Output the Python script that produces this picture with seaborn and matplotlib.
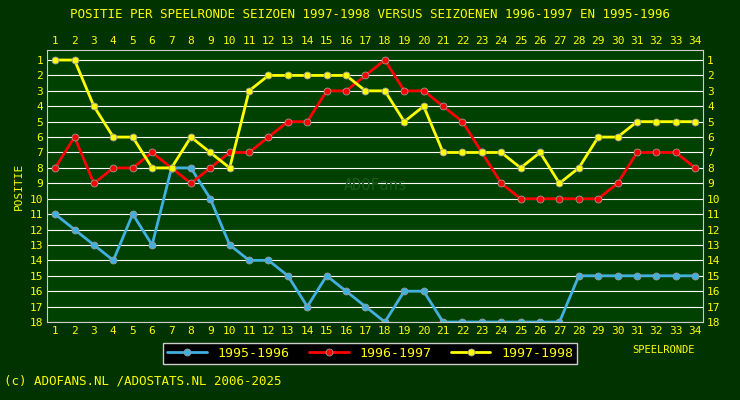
import numpy as np
import pandas as pd
import matplotlib
matplotlib.use("Agg")
import matplotlib.pyplot as plt
import seaborn as sns

rounds = list(range(1, 35))
pos_9596 = [11, 12, 13, 14, 11, 13, 8, 8, 10, 13, 14, 14, 15, 17, 15, 16, 17, 18, 16, 16,
            18, 18, 18, 18, 18, 18, 18, 15, 15, 15, 15, 15, 15, 15]
pos_9697 = [8, 6, 9, 8, 8, 7, 8, 9, 8, 7, 7, 6, 5, 5, 3, 3, 2, 1, 3, 3,
            4, 5, 7, 9, 10, 10, 10, 10, 10, 9, 7, 7, 7, 8]
pos_9798 = [1, 1, 4, 6, 6, 8, 8, 6, 7, 8, 3, 2, 2, 2, 2, 2, 3, 3, 5, 4,
            7, 7, 7, 7, 8, 7, 9, 8, 6, 6, 5, 5, 5, 5]

df = pd.DataFrame({"ronde": rounds * 3,
                   "positie": pos_9596 + pos_9697 + pos_9798,
                   "seizoen": ["1995-1996"] * 34 + ["1996-1997"] * 34 + ["1997-1998"] * 34})
colors = {"1995-1996": "#40b0e0", "1996-1997": "#ff0000", "1997-1998": "#ffff00"}

sns.set_style("dark")
plt.rcParams['font.family'] = ['DejaVu Sans Mono']
bg = "#003300"
fig = plt.figure(figsize=(7.4, 4.0), dpi=100, facecolor=bg)
ax = fig.add_axes([0.064, 0.195, 0.886, 0.68])
ax.set_facecolor("#004000")

for s in ["1995-1996", "1996-1997", "1997-1998"]:
    d = df[df.seizoen == s]
    sns.lineplot(data=d, x="ronde", y="positie", color=colors[s], lw=2, marker="o",
                 markersize=5, markeredgecolor="#999999", markeredgewidth=0.6,
                 ax=ax, label=s, legend=False)

ax.set_xlim(0.6, 34.4)
ax.set_ylim(18, 0.35)
ax.set_yticks(range(1, 19))
ax.set_xticks(rounds)
ax.grid(False)
for y in range(1, 19):
    ax.axhline(y, color="white", lw=0.8, zorder=0)
ax.tick_params(colors="#ffff00", labelsize=8, length=0, pad=3,
               top=True, right=True, labeltop=True, labelright=True)
for sp in ax.spines.values():
    sp.set_color("#cccccc")
ax.set_xlabel("")
ax.set_ylabel("POSITIE", color="#ffff00", fontsize=8)
ax.text(0.5, 0.5, "ADOFans", transform=ax.transAxes, ha="center", va="center",
        color="#1a5a1a", fontsize=11, zorder=0)

fig.text(0.5, 0.965, "POSITIE PER SPEELRONDE SEIZOEN 1997-1998 VERSUS SEIZOENEN 1996-1997 EN 1995-1996",
         ha="center", va="center", color="#ffff00", fontsize=9)
fig.text(0.855, 0.118, "SPEELRONDE", color="#ffff00", fontsize=7.5)
fig.text(0.005, 0.04, "(c) ADOFANS.NL /ADOSTATS.NL 2006-2025", color="#ffff00", fontsize=9)

h, l = ax.get_legend_handles_labels()
leg = fig.legend(h, l, loc="center", bbox_to_anchor=(0.5, 0.117), ncol=3,
                 facecolor="black", edgecolor="#cccccc", framealpha=1,
                 fontsize=9.5, handlelength=3, columnspacing=1.5, borderpad=0.3)
for t in leg.get_texts():
    t.set_color("#ffff00")
leg.get_frame().set_boxstyle("square", pad=0)

fig.savefig("out.png", dpi=100, facecolor=bg)
